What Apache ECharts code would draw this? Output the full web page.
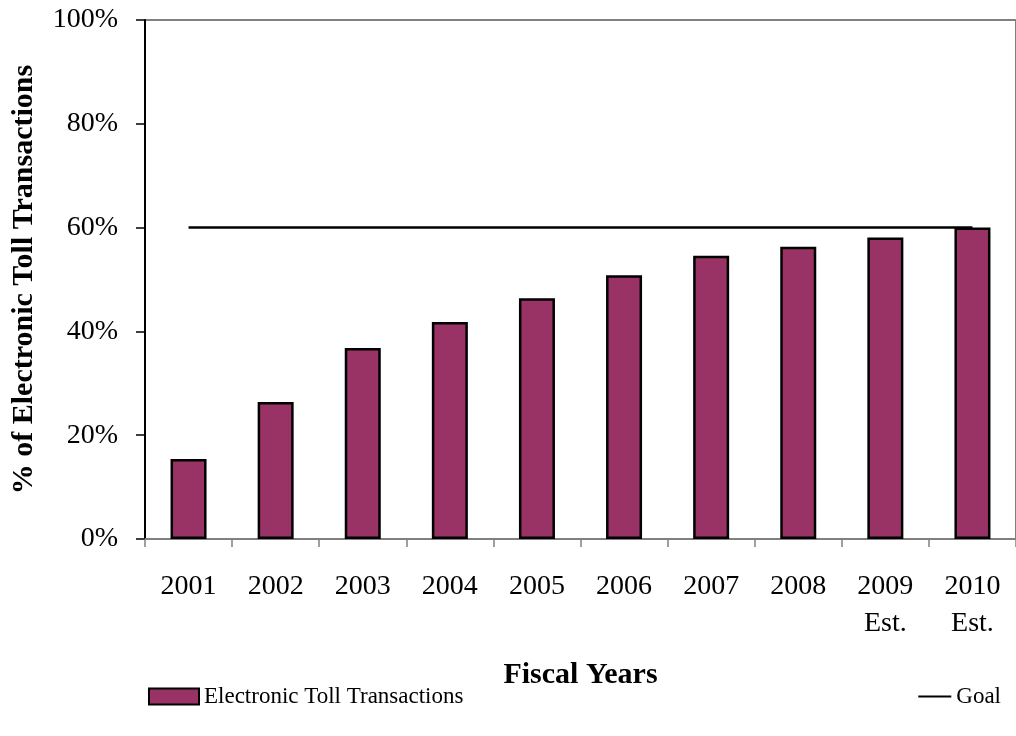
<!DOCTYPE html>
<html>
<head>
<meta charset="utf-8">
<style>
  html, body { margin: 0; padding: 0; background: #ffffff; }
  #chart { width: 1016px; height: 736px; }
</style>
<script src="https://cdn.jsdelivr.net/npm/echarts@6/dist/echarts.min.js"></script>
</head>
<body>
<div id="chart"></div>
<script>
// Fiscal years (forecast years carry an "Est." second line)
const years = ['2001', '2002', '2003', '2004', '2005', '2006', '2007', '2008', '2009\nEst.', '2010\nEst.'];
// Share of toll transactions paid electronically, percent
const electronicShare = [15.4, 26.4, 36.8, 41.8, 46.4, 50.8, 54.6, 56.3, 58.1, 60.0];
// Program goal, percent
const goal = [60, 60, 60, 60, 60, 60, 60, 60, 60, 60];
// Value axis ticks
const yMin = 0, yMax = 100, yStep = 20;

const FONT = '"Liberation Serif", "Times New Roman", serif';

const chart = echarts.init(document.getElementById('chart'), null, { renderer: 'canvas' });

chart.setOption({
  animation: false,
  backgroundColor: '#ffffff',
  textStyle: { fontFamily: FONT, color: '#000' },
  grid: {
    left: 145, top: 20, width: 878, height: 519,
    show: true, borderColor: '#808080', borderWidth: 2, backgroundColor: 'transparent'
  },
  legend: [
    {
      data: [{ name: 'Electronic Toll Transactions', icon: 'rect' }],
      left: 143, top: 680,
      itemWidth: 50, itemHeight: 16, itemGap: 6,
      textStyle: { fontFamily: FONT, fontSize: 23, color: '#000' }
    },
    {
      data: [{ name: 'Goal', icon: 'rect' }],
      right: 10, top: 680,
      itemWidth: 33, itemHeight: 2, itemGap: 4,
      textStyle: { fontFamily: FONT, fontSize: 23, color: '#000' }
    }
  ],
  xAxis: {
    type: 'category',
    data: years,
    name: 'Fiscal Years',
    nameLocation: 'middle',
    nameGap: 121,
    nameTextStyle: { fontFamily: FONT, fontSize: 30, fontWeight: 'bold', color: '#000' },
    axisLine: { show: true, lineStyle: { color: '#808080', width: 2 } },
    axisTick: { show: true, length: 8, lineStyle: { color: '#808080', width: 1.5 } },
    axisLabel: {
      fontFamily: FONT, fontSize: 28, color: '#000',
      margin: 29, lineHeight: 37, interval: 0
    },
    splitLine: { show: false }
  },
  yAxis: {
    type: 'value',
    min: yMin, max: yMax, interval: yStep,
    name: '% of Electronic Toll Transactions',
    nameLocation: 'middle',
    nameRotate: 90,
    nameGap: 106,
    nameTextStyle: { fontFamily: FONT, fontSize: 30, fontWeight: 'bold', color: '#000' },
    axisLine: { show: true, lineStyle: { color: '#000', width: 2 } },
    axisTick: { show: true, length: 9, lineStyle: { color: '#000', width: 1.5 } },
    axisLabel: {
      fontFamily: FONT, fontSize: 28, color: '#000', margin: 27,
      formatter: '{value}%'
    },
    splitLine: { show: false }
  },
  series: [
    {
      name: 'Electronic Toll Transactions',
      type: 'bar',
      data: electronicShare,
      barWidth: 36,
      itemStyle: { color: '#993366', borderColor: '#000', borderWidth: 2.5 },
      z: 2
    },
    {
      name: 'Goal',
      type: 'line',
      data: goal,
      symbol: 'none',
      lineStyle: { color: '#000', width: 2.5 },
      itemStyle: { color: '#000' },
      z: 3
    }
  ]
});
</script>
</body>
</html>
